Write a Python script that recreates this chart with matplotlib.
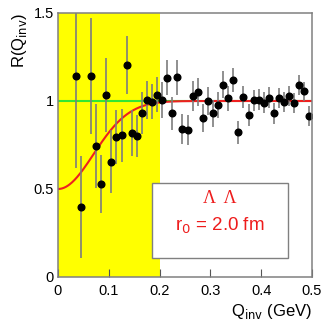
import numpy as np
import matplotlib
matplotlib.use("Agg")
import matplotlib.pyplot as plt

# ---- data ----
q_inv = [0.035, 0.045, 0.065, 0.075, 0.085, 0.095, 0.105, 0.115, 0.125, 0.135,
         0.145, 0.155, 0.165, 0.175, 0.185, 0.195, 0.205, 0.215, 0.225, 0.235,
         0.245, 0.255, 0.265, 0.275, 0.285, 0.295, 0.305, 0.315, 0.325, 0.335,
         0.345, 0.355, 0.365, 0.375, 0.385, 0.395, 0.405, 0.415, 0.425, 0.435,
         0.445, 0.455, 0.465, 0.475, 0.485, 0.495]
r_val = [1.14, 0.40, 1.14, 0.745, 0.527, 1.034, 0.655, 0.795, 0.805, 1.205,
         0.82, 0.80, 0.93, 1.006, 0.996, 1.036, 1.006, 1.132, 0.93, 1.135,
         0.839, 0.835, 1.03, 1.05, 0.903, 1.0, 0.93, 0.977, 1.093, 1.015,
         1.119, 0.822, 1.023, 0.92, 1.004, 1.008, 0.99, 1.019, 0.93, 1.015,
         0.992, 1.027, 0.987, 1.091, 1.055, 0.915]
r_err = [0.52, 0.29, 0.33, 0.24, 0.165, 0.21, 0.18, 0.155, 0.15, 0.167,
         0.13, 0.12, 0.12, 0.11, 0.10, 0.10, 0.10, 0.10, 0.095, 0.10,
         0.085, 0.085, 0.085, 0.08, 0.08, 0.08, 0.075, 0.075, 0.075, 0.07,
         0.07, 0.065, 0.065, 0.062, 0.06, 0.06, 0.06, 0.058, 0.058, 0.057,
         0.057, 0.056, 0.056, 0.055, 0.055, 0.055]

r0_fm = 2.0          # source radius of the model curve
hbarc = 0.1973       # GeV fm
band_range = [0.0, 0.2]
x_ticks = [0, 0.1, 0.2, 0.3, 0.4, 0.5]
x_ticklabels = ["0", "0.1", "0.2", "0.3", "0.4", "0.5"]
y_ticks = [0, 0.5, 1, 1.5]
y_ticklabels = ["0", "0.5", "1", "1.5"]

plt.rcParams['font.family'] = ['Liberation Sans', 'DejaVu Sans']

fig = plt.figure(figsize=(3.32, 3.32), dpi=100)
ax = fig.add_axes([58/332, 55/332, 254/332, 264/332])
ax.set_xlim(0, 0.5)
ax.set_ylim(0, 1.5)

ax.axvspan(band_range[0], band_range[1], color='#ffff00', zorder=0, lw=0)
ax.axhline(1.0, color='#33e633', lw=1.5, zorder=2)

qq = np.linspace(0, 0.5, 400)
model = 1 - 0.5 * np.exp(-(qq * r0_fm / hbarc) ** 2)
ax.plot(qq, model, color='#ee2020', lw=1.5, zorder=3)

ax.errorbar(q_inv, r_val, yerr=r_err, fmt='o', color='black', ms=4.8,
            ecolor='#7d7d7d', elinewidth=1.2, capsize=0, zorder=4)

for s in ax.spines.values():
    s.set_color('#808080')
    s.set_linewidth(1.1)
    s.set_zorder(5)

ax.set_xticks(x_ticks)
ax.set_xticklabels(x_ticklabels)
ax.set_yticks(y_ticks)
ax.set_yticklabels(y_ticklabels)
ax.tick_params(axis='x', direction='in', length=6, width=0.8, color='#555555',
               labelsize=10.5, pad=5)
ax.tick_params(axis='y', direction='in', length=0, labelsize=10.5, pad=3)

ax.set_xlabel(r"Q$_{\mathrm{inv}}$ (GeV)", fontsize=12, loc='right', labelpad=3)
ax.set_ylabel(r"R(Q$_{\mathrm{inv}}$)", fontsize=12, loc='top', labelpad=3)

# legend-like box
box = matplotlib.patches.Rectangle((0.185, 0.108), 0.268, 0.425, transform=ax.transData,
                                   facecolor='white', edgecolor='#808080', lw=1.0, zorder=6)
ax.add_patch(box)
ax.text(0.319, 0.445, "Λ  Λ", color='#ee1c1c', fontsize=13, ha='center', va='center',
        family=['Liberation Serif', 'DejaVu Serif'], zorder=7)
ax.text(0.319, 0.29, r"r$_0$ = 2.0 fm", color='#ee1c1c', fontsize=13.5, ha='center',
        va='center', zorder=7)

fig.savefig("out.png", dpi=100)
